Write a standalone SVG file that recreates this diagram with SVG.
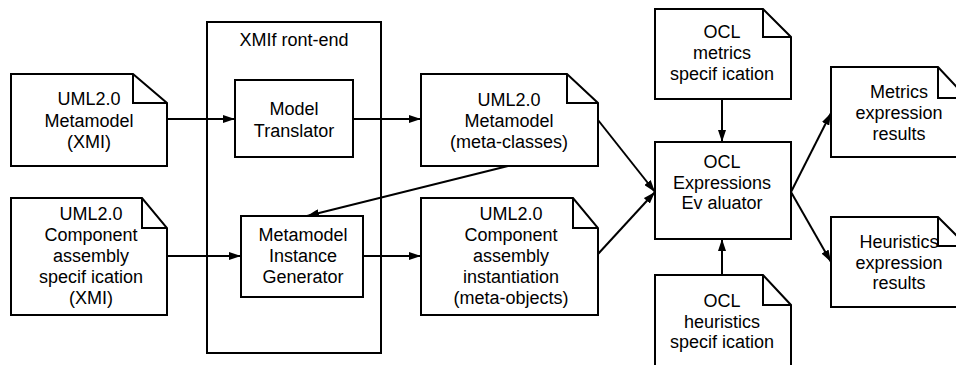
<svg xmlns="http://www.w3.org/2000/svg" width="956" height="365" viewBox="0 0 956 365">
<style>
.shape{fill:#fff;stroke:#000;stroke-width:2}
.fold{fill:none;stroke:#000;stroke-width:2}
.conn{fill:none;stroke:#000;stroke-width:2}
text{font-family:"Liberation Sans",Arial,sans-serif;font-size:18px;fill:#000;text-anchor:middle}
</style>
<defs>
<marker id="ah" viewBox="0 0 12 8" refX="12" refY="4" markerWidth="12" markerHeight="8" markerUnits="userSpaceOnUse" orient="auto">
<path d="M0,0 L12,4 L0,8 Z" fill="#000"/>
</marker>
</defs>
<rect width="956" height="365" fill="#fff"/>

<g id="xmi-frontend">
<rect class="shape" x="207" y="22" width="174" height="331"/>
<text x="294" y="46">XMIf ront-end</text>
</g>

<g id="doc-uml-metamodel-xmi">
<path class="shape" d="M11,74 H133 L167,103 V166 H11 Z"/>
<path class="fold" d="M133,74 V103 H167"/>
<text x="89" y="105">UML2.0</text>
<text x="89" y="126.5">Metamodel</text>
<text x="89" y="148">(XMI)</text>
</g>

<g id="doc-component-assembly-xmi">
<path class="shape" d="M11,198 H142 L167,228 V315 H11 Z"/>
<path class="fold" d="M142,198 V228 H167"/>
<text x="91" y="220">UML2.0</text>
<text x="91" y="241">Component</text>
<text x="91" y="262">assembly</text>
<text x="91" y="283">specif ication</text>
<text x="91" y="304">(XMI)</text>
</g>

<g id="model-translator">
<rect class="shape" x="235" y="80" width="118" height="77"/>
<text x="294" y="115">Model</text>
<text x="294" y="137">Translator</text>
</g>

<g id="metamodel-instance-generator">
<rect class="shape" x="241" y="216" width="122" height="81"/>
<text x="303" y="241">Metamodel</text>
<text x="303" y="262">Instance</text>
<text x="303" y="283">Generator</text>
</g>

<g id="doc-uml-metamodel-metaclasses">
<path class="shape" d="M421,74 H567 L598,103 V166 H421 Z"/>
<path class="fold" d="M567,74 V103 H598"/>
<text x="509" y="106">UML2.0</text>
<text x="509" y="127">Metamodel</text>
<text x="509" y="148">(meta-classes)</text>
</g>

<g id="doc-component-assembly-instantiation">
<path class="shape" d="M421,198 H573 L598,228 V315 H421 Z"/>
<path class="fold" d="M573,198 V228 H598"/>
<text x="511" y="220">UML2.0</text>
<text x="511" y="241">Component</text>
<text x="511" y="262">assembly</text>
<text x="511" y="283">instantiation</text>
<text x="511" y="304">(meta-objects)</text>
</g>

<g id="doc-ocl-metrics-spec">
<path class="shape" d="M655,9 H763 L791,37 V99 H655 Z"/>
<path class="fold" d="M763,9 V37 H791"/>
<text x="722" y="38">OCL</text>
<text x="722" y="59">metrics</text>
<text x="722" y="80">specif ication</text>
</g>

<g id="ocl-expressions-evaluator">
<rect class="shape" x="655" y="142" width="136" height="97"/>
<text x="722" y="168">OCL</text>
<text x="722" y="188.5">Expressions</text>
<text x="722" y="209">Ev aluator</text>
</g>

<g id="doc-ocl-heuristics-spec">
<path class="shape" d="M655,275 H763 L791,305 V380 H655 Z"/>
<path class="fold" d="M763,275 V305 H791"/>
<text x="722" y="307">OCL</text>
<text x="722" y="328">heuristics</text>
<text x="722" y="348">specif ication</text>
</g>

<g id="doc-metrics-results">
<path class="shape" d="M831,67 H938 L967,98 V157 H831 Z"/>
<path class="fold" d="M938,67 V98 H967"/>
<text x="899" y="98">Metrics</text>
<text x="899" y="118.5">expression</text>
<text x="899" y="140">results</text>
</g>

<g id="doc-heuristics-results">
<path class="shape" d="M831,217 H938 L967,246 V307 H831 Z"/>
<path class="fold" d="M938,217 V246 H967"/>
<text x="899" y="248">Heuristics</text>
<text x="899" y="268.5">expression</text>
<text x="899" y="289">results</text>
</g>

<g id="connectors">
<line class="conn" x1="167" y1="119" x2="235" y2="119" marker-end="url(#ah)"/>
<line class="conn" x1="353" y1="119" x2="421" y2="119" marker-end="url(#ah)"/>
<line class="conn" x1="167" y1="256" x2="241" y2="256" marker-end="url(#ah)"/>
<line class="conn" x1="363" y1="256" x2="421" y2="256" marker-end="url(#ah)"/>
<line class="conn" x1="508" y1="166" x2="307" y2="216" marker-end="url(#ah)"/>
<line class="conn" x1="598" y1="120" x2="655" y2="192" marker-end="url(#ah)"/>
<line class="conn" x1="598" y1="254" x2="655" y2="192" marker-end="url(#ah)"/>
<line class="conn" x1="722" y1="99" x2="722" y2="142" marker-end="url(#ah)"/>
<line class="conn" x1="722" y1="275" x2="722" y2="239" marker-end="url(#ah)"/>
<line class="conn" x1="791" y1="192" x2="831" y2="113" marker-end="url(#ah)"/>
<line class="conn" x1="791" y1="192" x2="831" y2="262" marker-end="url(#ah)"/>
</g>
</svg>
